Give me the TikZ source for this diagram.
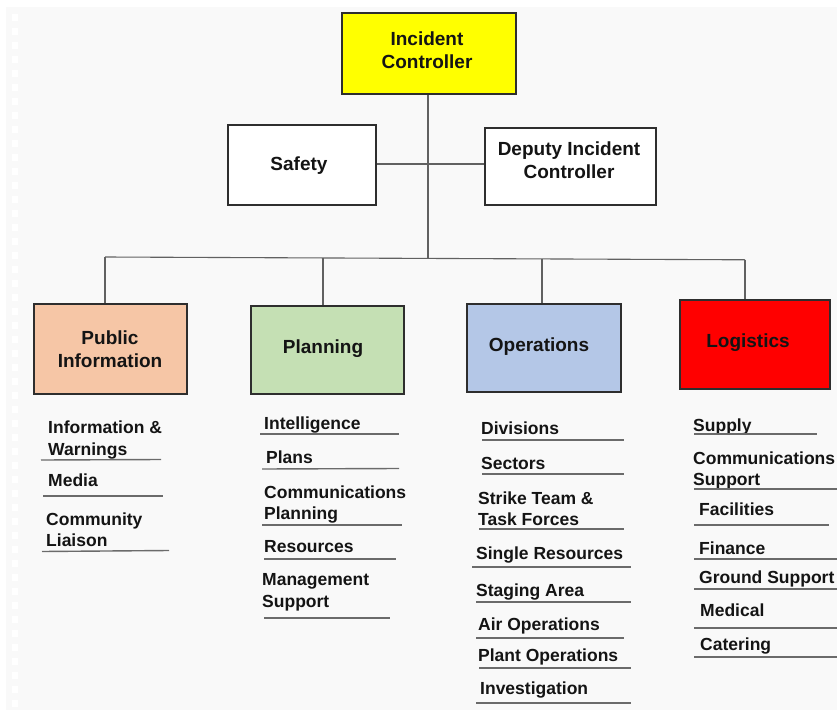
\documentclass[tikz,border=0pt]{standalone}
\usepackage{fontspec}
\setmainfont{Liberation Sans}
\definecolor{bgc}{HTML}{F9F9F9}
\definecolor{icyellow}{HTML}{FFFF00}
\definecolor{pipeach}{HTML}{F6C6A6}
\definecolor{plgreen}{HTML}{C5E0B4}
\definecolor{opblue}{HTML}{B4C7E7}
\definecolor{lgred}{HTML}{FF0000}
\tikzset{
  box/.style={draw=black!82, line width=1.8pt, inner sep=0pt},
  btext/.style={font=\fontsize{19}{23.5}\selectfont\bfseries, align=center, inner sep=0pt, text=black!92},
  item/.style={font=\fontsize{17.5}{21.5}\selectfont\bfseries, align=left, anchor=west, inner sep=0pt, text=black!92, yshift=-1.5pt},
  conn/.style={draw=black!62, line width=1.1pt},
  uline/.style={draw=black!58, line width=1.4pt},
}
\begin{document}
\begin{tikzpicture}[x=1pt,y=-1pt]
\useasboundingbox (0,0) rectangle (837,714);
\fill[white] (0,0) rectangle (837,714);
\fill[bgc] (6,7) rectangle (837,710);
\foreach \k in {0,...,49} {
  \fill[white] (12,{14+14*\k}) rectangle (18,{21+14*\k});
}

% top boxes
\node[box, fill=icyellow, minimum width=174pt, minimum height=81pt] (ic) at (429,53.5) {};
\node[btext] (icT) at (427,50) {Incident\\Controller};
\node[box, fill=white, minimum width=148pt, minimum height=80pt] (safety) at (302,165) {};
\node[btext] (safetyT) at (299,166) {Safety};
\node[box, fill=white, minimum width=171pt, minimum height=77pt] (deputy) at (570.5,166.5) {};
\node[btext] (deputyT) at (569,160) {Deputy Incident\\Controller};

% section boxes
\node[box, fill=pipeach, minimum width=153pt, minimum height=90pt] (pi) at (110.5,349) {};
\node[btext] (piT) at (110,349) {Public\\Information};
\node[box, fill=plgreen, minimum width=153pt, minimum height=88pt] (pl) at (327.5,350) {};
\node[btext] (plT) at (323,349) {Planning};
\node[box, fill=opblue, minimum width=154pt, minimum height=88pt] (op) at (544,348) {};
\node[btext] (opT) at (539,347) {Operations};
\node[box, fill=lgred, minimum width=150pt, minimum height=89pt] (lg) at (755,344.5) {};
\node[btext] (lgT) at (748,343) {Logistics};

% connectors
\coordinate (busM) at (428,258.4);
\coordinate (busL) at (105,257);
\coordinate (busP) at (323,257.9);
\coordinate (busO) at (542,258.8);
\coordinate (busR) at (745,259.8);
\draw[conn] (ic.south -| busM) -- (busM);
\draw[conn] (busL) -- (busR);
\draw[conn] (safety.east |- 0,164) -- (deputy.west |- 0,164);
\draw[conn] (busL) -- (busL |- pi.north);
\draw[conn] (busP) -- (busP |- pl.north);
\draw[conn] (busO) -- (busO |- op.north);
\draw[conn] (busR) -- (busR |- lg.north);

% Public Information items
\node[item] (pi1) at (48,438.5) {Information \&\\Warnings};
\node[item] (pi2) at (48,479) {Media};
\node[item] (pi3) at (46,528) {Community\\Liaison};
\draw[uline] (41,460) -- (161,459.5);
\draw[uline] (43,496) -- (163,496);
\draw[uline] (42,551.5) -- (169,550.5);

% Planning items
\node[item] (pl1) at (264,424) {Intelligence};
\node[item] (pl2) at (266,456) {Plans};
\node[item] (pl3) at (264,503) {Communications\\Planning};
\node[item] (pl4) at (264,545) {Resources};
\node[item] (pl5) at (262,591) {Management\\Support};
\draw[uline] (260,434) -- (399,434);
\draw[uline] (262,469) -- (399,468.5);
\draw[uline] (262,525) -- (402,525);
\draw[uline] (264,559) -- (396,559);
\draw[uline] (264,618) -- (390,618);

% Operations items
\node[item] (op1) at (481,427) {Divisions};
\node[item] (op2) at (481,462) {Sectors};
\node[item] (op3) at (478,507) {Strike Team \&\\Task Forces};
\node[item] (op4) at (476,554) {Single Resources};
\node[item] (op5) at (476,591) {Staging Area};
\node[item] (op6) at (478,624) {Air Operations};
\node[item] (op7) at (478,655) {Plant Operations};
\node[item] (op8) at (480,689) {Investigation};
\draw[uline] (482,440) -- (624,440);
\draw[uline] (482,474) -- (624,474);
\draw[uline] (479,529) -- (624,529);
\draw[uline] (472,567) -- (631,567);
\draw[uline] (476,602) -- (631,602);
\draw[uline] (476,638) -- (624,638);
\draw[uline] (479,668) -- (631,668);
\draw[uline] (476,703) -- (631,703);

% Logistics items
\node[item] (lg1) at (693,425) {Supply};
\node[item] (lg2) at (693,469) {Communications\\Support};
\node[item] (lg3) at (699,508) {Facilities};
\node[item] (lg4) at (699,547) {Finance};
\node[item] (lg5) at (699,577) {Ground Support};
\node[item] (lg6) at (700,609) {Medical};
\node[item] (lg7) at (700,645) {Catering};
\draw[uline] (694,434) -- (817,434);
\draw[uline] (694,489) -- (837,489);
\draw[uline] (694,525) -- (829,525);
\draw[uline] (694,559) -- (837,559);
\draw[uline] (694,589) -- (837,589);
\draw[uline] (694,628) -- (837,628);
\draw[uline] (694,657) -- (837,657);
\end{tikzpicture}
\end{document}
